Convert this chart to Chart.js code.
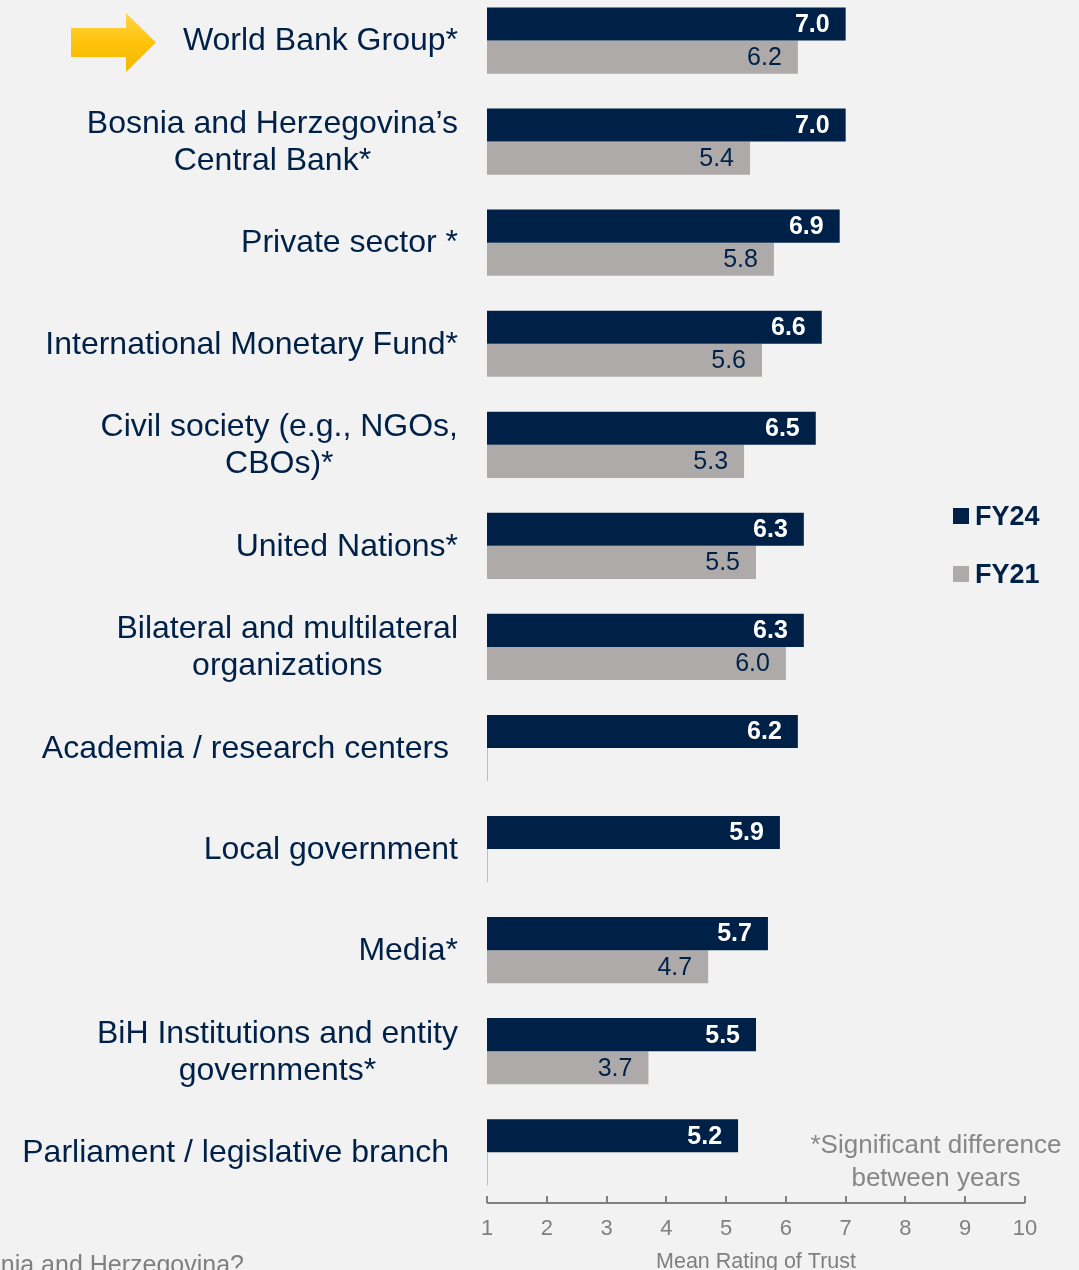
<!DOCTYPE html>
<html>
<head>
<meta charset="utf-8">
<script src="https://cdn.jsdelivr.net/npm/chart.js@4.4.1/dist/chart.umd.min.js"></script>
<style>
  html, body { margin:0; padding:0; background:#f2f2f2; width:1079px; height:1270px; overflow:hidden; position:relative; font-family:"Liberation Sans", Arial, sans-serif; }
  #c { position:absolute; left:0; top:-10px; }
  .leg { position:absolute; left:953px; height:30px; display:flex; align-items:center; font-weight:bold; font-size:27px; color:#002147; }
  .leg span.sw { display:inline-block; width:16px; height:16px; margin-right:6px; }
  #note { position:absolute; left:736px; width:400px; top:1128px; text-align:center; font-size:26px; line-height:33px; color:#878787; }
  #q { position:absolute; right:835px; top:1252px; font-size:25px; line-height:25px; color:#7f7f7f; white-space:nowrap; }
  #arrow { position:absolute; left:71px; top:13px; }
</style>
</head>
<body>
<svg id="arrow" width="86" height="60" viewBox="0 0 86 60">
  <defs>
    <linearGradient id="g" x1="0" y1="0" x2="0" y2="1">
      <stop offset="0" stop-color="#ffd54a"/>
      <stop offset="0.5" stop-color="#ffc30a"/>
      <stop offset="1" stop-color="#f2b800"/>
    </linearGradient>
  </defs>
  <polygon points="0,15 55,15 55,0 85,29.5 55,59 55,44 0,44" fill="url(#g)"/>
</svg>
<canvas id="c" width="1079" height="1300"></canvas>
<div class="leg" style="top:501px;"><span class="sw" style="background:#002147"></span>FY24</div>
<div class="leg" style="top:559px;"><span class="sw" style="background:#aeaaa9"></span>FY21</div>
<div id="note">*Significant difference<br>between years</div>
<div id="q">Bosnia and Herzegovina?</div>
<script>
const categories = [
  "World Bank Group*",
  ["Bosnia and Herzegovina\u2019s", "Central Bank*"],
  "Private sector *",
  "International Monetary Fund*",
  ["Civil society (e.g., NGOs,", "CBOs)*"],
  "United Nations*",
  ["Bilateral and multilateral", "organizations"],
  "Academia / research centers ",
  "Local government",
  "Media*",
  ["BiH Institutions and entity", "governments*"],
  "Parliament / legislative branch "
];
const fy24 = [7.0, 7.0, 6.9, 6.6, 6.5, 6.3, 6.3, 6.2, 5.9, 5.7, 5.5, 5.2];
const fy21 = [6.2, 5.4, 5.8, 5.6, 5.3, 5.5, 6.0, null, null, 4.7, 3.7, null];
const seriesNames = ["FY24", "FY21"];
const axisTitle = "Mean Rating of Trust";

const NAVY = "#002147";
const GRAY = "#aeaaa9";
const FONT = '"Liberation Sans", Arial, sans-serif';

const custom = {
  id: 'custom',
  afterDatasetsDraw(chart) {
    const ctx = chart.ctx;
    const xs = chart.scales.x, ys = chart.scales.y;
    ctx.save();
    ctx.textBaseline = 'middle';
    ctx.textAlign = 'right';
    chart.data.datasets.forEach((ds, di) => {
      const meta = chart.getDatasetMeta(di);
      meta.data.forEach((el, i) => {
        const v = ds.data[i];
        if (v === null || v === undefined) return;
        if (di === 0) { ctx.fillStyle = '#ffffff'; ctx.font = 'bold 25px ' + FONT; }
        else { ctx.fillStyle = NAVY; ctx.font = '25px ' + FONT; }
        ctx.fillText(v.toFixed(1), el.x - 16, el.y + 1);
      });
    });
    const m0 = chart.getDatasetMeta(0);
    ctx.strokeStyle = '#bdbdbd';
    ctx.lineWidth = 1;
    fy21.forEach((v, i) => {
      if (v !== null) return;
      const el = m0.data[i];
      const h = el.height;
      const yc = ys.getPixelForValue(i);
      const x0 = Math.round(xs.getPixelForValue(1)) + 0.5;
      ctx.beginPath();
      ctx.moveTo(x0, yc);
      ctx.lineTo(x0, yc + h);
      ctx.stroke();
    });
    ctx.restore();
  },
  afterDraw(chart) {
    const ctx = chart.ctx;
    const xs = chart.scales.x, ys = chart.scales.y;
    const area = chart.chartArea;
    ctx.save();
    ctx.strokeStyle = '#808080';
    ctx.lineWidth = 2;
    const yb = Math.round(area.bottom);
    ctx.beginPath();
    ctx.moveTo(xs.getPixelForValue(1), yb);
    ctx.lineTo(xs.getPixelForValue(10), yb);
    ctx.stroke();
    xs.ticks.forEach(t => {
      const x = Math.round(xs.getPixelForValue(t.value));
      ctx.beginPath();
      ctx.moveTo(x, yb);
      ctx.lineTo(x, yb - 7);
      ctx.stroke();
    });
    ctx.fillStyle = NAVY;
    ctx.font = '32px ' + FONT;
    ctx.textBaseline = 'middle';
    ctx.textAlign = 'center';
    const right = 458;
    chart.data.labels.forEach((lab, i) => {
      const lines = Array.isArray(lab) ? lab : [lab];
      const w = Math.max(...lines.map(l => ctx.measureText(l).width));
      const cx = right - w / 2;
      const yc = ys.getPixelForValue(i);
      const lh = 37;
      lines.forEach((l, k) => {
        const y = yc + (k - (lines.length - 1) / 2) * lh + 1;
        ctx.fillText(l, cx, y);
      });
    });
    ctx.restore();
  }
};

new Chart(document.getElementById('c'), {
  type: 'bar',
  data: {
    labels: categories,
    datasets: [
      { label: seriesNames[0], data: fy24, backgroundColor: NAVY, barPercentage: 1, categoryPercentage: 0.655 },
      { label: seriesNames[1], data: fy21, backgroundColor: GRAY, barPercentage: 1, categoryPercentage: 0.655 }
    ]
  },
  options: {
    indexAxis: 'y',
    responsive: false,
    animation: false,
    devicePixelRatio: 1,
    layout: { padding: { left: 487, right: 54, top: 0, bottom: 15 } },
    plugins: { legend: { display: false }, tooltip: { enabled: false } },
    scales: {
      x: {
        min: 1, max: 10,
        ticks: { stepSize: 1, color: '#808080', font: { size: 22, family: FONT }, padding: 13 },
        grid: { display: false, drawTicks: false },
        border: { display: false },
        title: { display: true, text: axisTitle, color: '#7f7f7f', font: { size: 21.5, family: FONT }, padding: { top: -6, bottom: 0 } }
      },
      y: { display: false }
    }
  },
  plugins: [custom]
});
</script>
</body>
</html>
